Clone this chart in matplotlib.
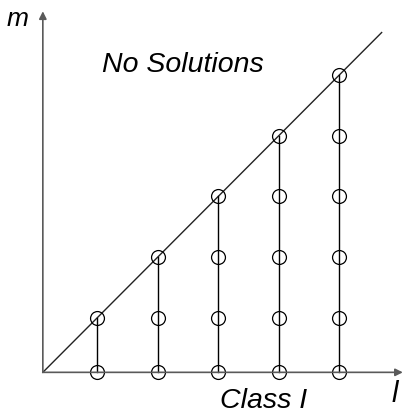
import matplotlib
matplotlib.use("Agg")
import matplotlib.pyplot as plt

# data
l_values = [1, 2, 3, 4, 5]          # columns
m_max = [1, 2, 3, 4, 5]             # top circle of each column (m = l)
diag_end = 5.7
axis_end = 6.05
base = 0.1                          # where the axes cross

fig = plt.figure(figsize=(4.05, 4.17), dpi=100)
ax = fig.add_axes([0, 0, 1, 1])
ax.set_xlim(-0.608, 6.086)
ax.set_ylim(-0.636, 6.236)
ax.axis("off")

axis_col = "#5a5a5a"
# axes with arrows
ax.annotate("", xy=(axis_end, base), xytext=(base, base),
            arrowprops=dict(arrowstyle="-|>", color=axis_col, lw=1.2,
                            mutation_scale=11, shrinkA=0, shrinkB=0))
ax.annotate("", xy=(base, axis_end), xytext=(base, base),
            arrowprops=dict(arrowstyle="-|>", color=axis_col, lw=1.2,
                            mutation_scale=11, shrinkA=0, shrinkB=0))

# diagonal
ax.plot([base, diag_end], [base, diag_end], color="#222222", lw=1.0)

# columns
for l, top in zip(l_values, m_max):
    ax.plot([l, l], [base, top], color="black", lw=1.0)
    levels = [base] + list(range(1, top + 1))
    ax.plot([l] * len(levels), levels, linestyle="none", marker="o",
            markersize=10, markerfacecolor="none", markeredgecolor="black",
            markeredgewidth=0.9)

font = ["Liberation Sans", "DejaVu Sans"]
ax.text(2.41, 5.044, "No Solutions", fontsize=20.5, style="italic", family=font,
        ha="center", va="baseline")
ax.text(3.756, -0.493, "Class I", fontsize=20.5, style="italic", family=font,
        ha="center", va="baseline")
ax.text(-0.319, 5.812, "m", fontsize=19, style="italic", family=font,
        ha="center", va="baseline")
ax.text(5.92, -0.389, "l", fontsize=21, style="italic", family=font,
        ha="center", va="baseline")

fig.savefig("out.png", dpi=100)
